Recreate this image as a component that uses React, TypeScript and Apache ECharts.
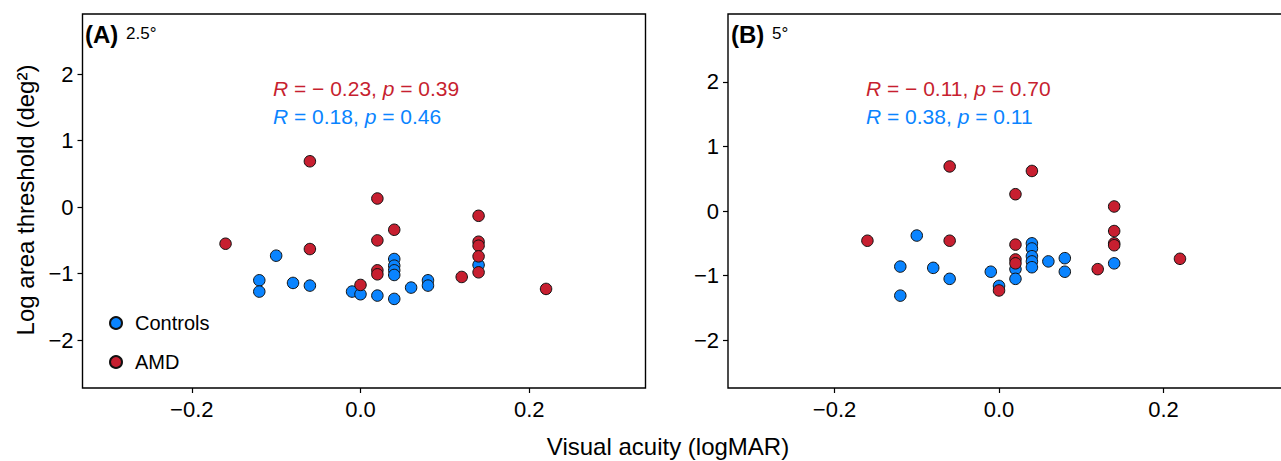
import React, { useEffect, useRef } from "react";
import * as echarts from "echarts";

// Panel A (2.5°)
const ctrlAX = [-0.12, -0.12, -0.10, -0.08, -0.06, -0.01, 0.00, 0.02, 0.04, 0.04, 0.04, 0.04, 0.04, 0.06, 0.08, 0.08, 0.14];
const ctrlAY = [-1.10, -1.27, -0.73, -1.14, -1.18, -1.27, -1.31, -1.33, -1.38, -0.78, -0.88, -0.95, -1.02, -1.21, -1.10, -1.18, -0.87];
const amdAX = [-0.16, -0.06, -0.06, 0.00, 0.02, 0.02, 0.02, 0.02, 0.04, 0.12, 0.14, 0.14, 0.14, 0.14, 0.14, 0.22];
const amdAY = [-0.55, 0.69, -0.63, -1.17, 0.13, -0.50, -0.95, -1.01, -0.34, -1.05, -0.13, -0.52, -0.58, -0.74, -0.98, -1.23];

// Panel B (5°)
const ctrlBX = [-0.12, -0.12, -0.10, -0.08, -0.06, -0.01, 0.00, 0.02, 0.02, 0.04, 0.04, 0.04, 0.04, 0.04, 0.06, 0.08, 0.08, 0.14];
const ctrlBY = [-0.86, -1.31, -0.38, -0.88, -1.05, -0.94, -1.16, -0.90, -1.05, -0.50, -0.58, -0.70, -0.78, -0.87, -0.78, -0.73, -0.94, -0.81];
const amdBX = [-0.16, -0.06, -0.06, 0.00, 0.02, 0.02, 0.02, 0.02, 0.04, 0.12, 0.14, 0.14, 0.14, 0.14, 0.22];
const amdBY = [-0.46, 0.69, -0.46, -1.23, 0.26, -0.52, -0.75, -0.81, 0.62, -0.90, 0.07, -0.31, -0.50, -0.53, -0.74];

const xTicks = [-0.2, 0.0, 0.2];
const yTicks = [-2, -1, 0, 1, 2];
const statsA = [
  { R: "\u2212 0.23", p: "0.39" },
  { R: "0.18", p: "0.46" },
];
const statsB = [
  { R: "\u2212 0.11", p: "0.70" },
  { R: "0.38", p: "0.11" },
];

const RED = "#C71F30";
const BLUE = "#0A84FF";
const FONT = "Liberation Sans";

const zip = (xs: number[], ys: number[]) => xs.map((x, i) => [x, ys[i]]);

const fmtX = (v: number) => (v < 0 ? "\u2212" + Math.abs(v).toFixed(1) : v.toFixed(1));
const fmtY = (v: number) => (v < 0 ? "\u2212" + Math.abs(v) : String(v));

export default function App() {
  const ref = useRef<HTMLDivElement>(null);
  useEffect(() => {
    if (!ref.current) return;
    const chart = echarts.init(ref.current, null, { renderer: "svg" });
    const gridH = 374;
    const xAxisBase = (idx: number, min: number, max: number) => ({
      type: "value",
      gridIndex: idx,
      position: "bottom",
      min,
      max,
      splitLine: { show: false },
      axisLine: { show: false, onZero: false },
      axisTick: { show: true, inside: false, length: 5, customValues: xTicks, lineStyle: { color: "#000", width: 1.2 } },
      axisLabel: { customValues: xTicks, formatter: fmtX, color: "#000", fontSize: 22, fontFamily: FONT, margin: 10 },
    });
    const yAxisBase = (idx: number, min: number, max: number) => ({
      type: "value",
      gridIndex: idx,
      position: "left",
      min,
      max,
      splitLine: { show: false },
      axisLine: { show: false, onZero: false },
      axisTick: { show: true, inside: false, length: 5, customValues: yTicks, lineStyle: { color: "#000", width: 1.2 } },
      axisLabel: { customValues: yTicks, formatter: fmtY, color: "#000", fontSize: 22, fontFamily: FONT, margin: 9 },
    });
    const ser = (name: string, xi: number, data: number[][], color: string) => ({
      type: "scatter",
      name,
      xAxisIndex: xi,
      yAxisIndex: xi,
      data,
      symbol: "circle",
      symbolSize: 11.5,
      itemStyle: { color, borderColor: "#111", borderWidth: 1, opacity: 1 },
      emphasis: { disabled: true },
    });
    const statText = (x: number, y: number, s: { R: string; p: string }, color: string) => ({
      type: "text",
      x,
      y,
      style: {
        text: `{i|R} = ${s.R}, {i|p} = ${s.p}`,
        fill: color,
        font: `21px ${FONT}`,
        verticalAlign: "middle",
        rich: {
          i: { fontStyle: "italic", fill: color, fontSize: 21, fontFamily: FONT },
        },
      },
    });
    const panelLabel = (x: number, letter: string, deg: string) => [
      {
        type: "text",
        x,
        y: 34,
        style: { text: letter, fill: "#000", font: `bold 24px ${FONT}`, verticalAlign: "middle" },
      },
      {
        type: "text",
        x: x + 41,
        y: 33,
        style: { text: deg, fill: "#000", font: `17px ${FONT}`, verticalAlign: "middle" },
      },
    ];
    chart.setOption({
      animation: false,
      backgroundColor: "#fff",
      grid: [
        { left: 82.5, top: 14, width: 563, height: gridH, show: true, borderColor: "#000", borderWidth: 1.4, backgroundColor: "transparent" },
        { left: 728, top: 14, width: 570, height: gridH, show: true, borderColor: "#000", borderWidth: 1.4, backgroundColor: "transparent" },
      ],
      xAxis: [xAxisBase(0, -0.3296, 0.3379), xAxisBase(1, -0.3295, 0.3635)],
      yAxis: [yAxisBase(0, -2.72, 2.905), yAxisBase(1, -2.74, 3.05)],
      legend: {
        data: ["Controls", "AMD"],
        orient: "vertical",
        left: 104,
        top: 308,
        itemWidth: 12,
        itemHeight: 12,
        itemGap: 19,
        icon: "circle",
        selectedMode: false,
        textStyle: { fontSize: 20, fontFamily: FONT, color: "#000", lineHeight: 20, padding: [0, 0, 0, 8] },
      },
      series: [
        ser("Controls", 0, zip(ctrlAX, ctrlAY), BLUE),
        ser("AMD", 0, zip(amdAX, amdAY), RED),
        ser("Controls", 1, zip(ctrlBX, ctrlBY), BLUE),
        ser("AMD", 1, zip(amdBX, amdBY), RED),
      ],
      graphic: [
        ...panelLabel(85, "(A)", "2.5\u00b0"),
        ...panelLabel(731, "(B)", "5\u00b0"),
        statText(273, 88, statsA[0], RED),
        statText(273, 116, statsA[1], BLUE),
        statText(866, 88, statsB[0], RED),
        statText(866, 116, statsB[1], BLUE),
        {
          type: "text",
          x: 668,
          y: 446,
          style: { text: "Visual acuity (logMAR)", fill: "#000", font: `24px ${FONT}`, align: "center", verticalAlign: "middle" },
        },
        {
          type: "text",
          x: 25,
          y: 200,
          rotation: Math.PI / 2,
          style: { text: "Log area threshold (deg\u00b2)", fill: "#000", font: `24px ${FONT}`, align: "center", verticalAlign: "middle" },
        },
      ],
    });
    return () => chart.dispose();
  }, []);
  return (
    <div style={{ position: "fixed", left: 0, top: 0, width: 1281, height: 461, overflow: "hidden", background: "#fff" }}>
      <div ref={ref} style={{ width: 1300, height: 461 }} />
    </div>
  );
}
